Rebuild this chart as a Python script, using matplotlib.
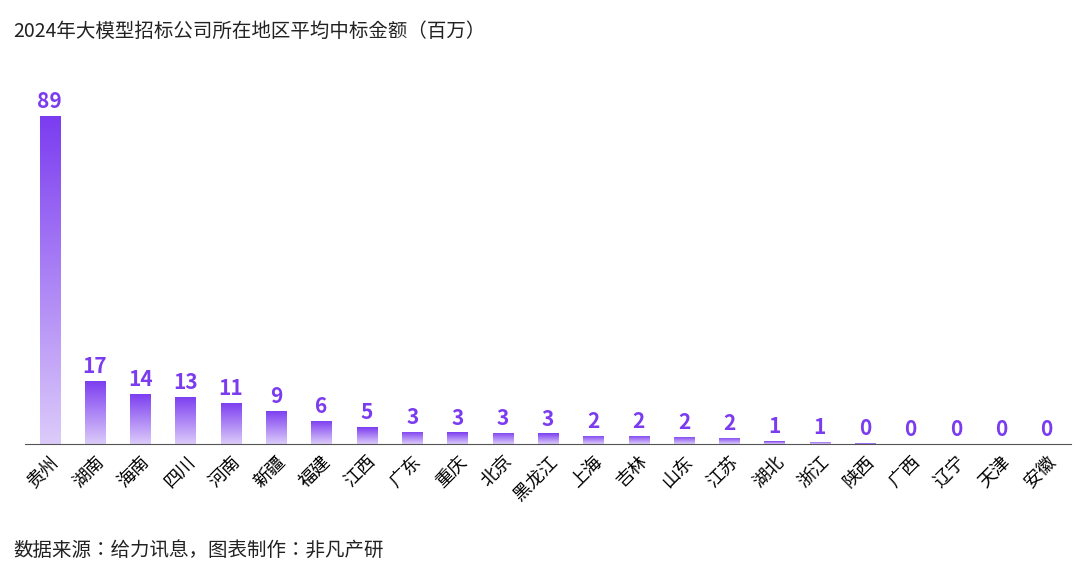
import matplotlib
matplotlib.use("Agg")
import matplotlib.pyplot as plt
import numpy as np
from matplotlib.colors import LinearSegmentedColormap
from matplotlib import font_manager

avail = {f.name for f in font_manager.fontManager.ttflist}
cjk = [n for n in ["Noto Sans CJK SC", "Noto Sans CJK JP", "Noto Sans CJK TC", "Noto Sans SC"] if n in avail]
plt.rcParams["font.family"] = cjk + ["DejaVu Sans"]

regions = ["贵州", "湖南", "海南", "四川", "河南", "新疆", "福建", "江西", "广东", "重庆", "北京",
           "黑龙江", "上海", "吉林", "山东", "江苏", "湖北", "浙江", "陕西", "广西", "辽宁", "天津", "安徽"]
heights = [89, 17.2, 13.7, 12.8, 11.2, 9.0, 6.3, 4.6, 3.3, 3.2, 3.1, 2.9, 2.3, 2.2, 1.9, 1.7,
           0.8, 0.6, 0.25, 0.15, 0.1, 0.05, 0.05]
labels = ["89", "17", "14", "13", "11", "9", "6", "5", "3", "3", "3", "3", "2", "2", "2", "2",
          "1", "1", "0", "0", "0", "0", "0"]

fig = plt.figure(figsize=(10.8, 5.76), dpi=100)
ax = fig.add_axes([0.023, 0.229, 0.969, 0.64])
x = np.arange(len(regions))
w = 0.45
ymax = 100
cmap = LinearSegmentedColormap.from_list("p", ["#dccbfa", "#7b3cf0"])
grad = np.linspace(0, 1, 256).reshape(-1, 1)
for xi, h, lab in zip(x, heights, labels):
    bar = ax.bar(xi, h, w, color="none", edgecolor="none")[0]
    im = ax.imshow(grad, cmap=cmap, aspect="auto", origin="lower",
                   extent=[xi - w / 2, xi + w / 2, 0, max(h, 0.01)], zorder=2)
    im.set_clip_path(bar)
    ax.text(xi, h + 1.0, lab, ha="center", va="bottom", color="#7b3cf0",
            fontsize=15, fontweight="bold")
ax.set_xlim(-0.55, len(regions) - 0.45)
ax.set_ylim(0, ymax)
ax.set_xticks(x)
ax.set_xticklabels(regions, rotation=45, ha="right", rotation_mode="anchor", fontsize=13)
ax.tick_params(axis="x", length=0, pad=6)
ax.set_yticks([])
for s in ["top", "right", "left"]:
    ax.spines[s].set_visible(False)
ax.spines["bottom"].set_color("#555555")

fig.text(0.012, 0.935, "2024年大模型招标公司所在地区平均中标金额（百万）", fontsize=14, color="#222222")
fig.text(0.012, 0.035, "数据来源：给力讯息，图表制作：非凡产研", fontsize=14, color="#222222")
fig.savefig("out.png", dpi=100)
